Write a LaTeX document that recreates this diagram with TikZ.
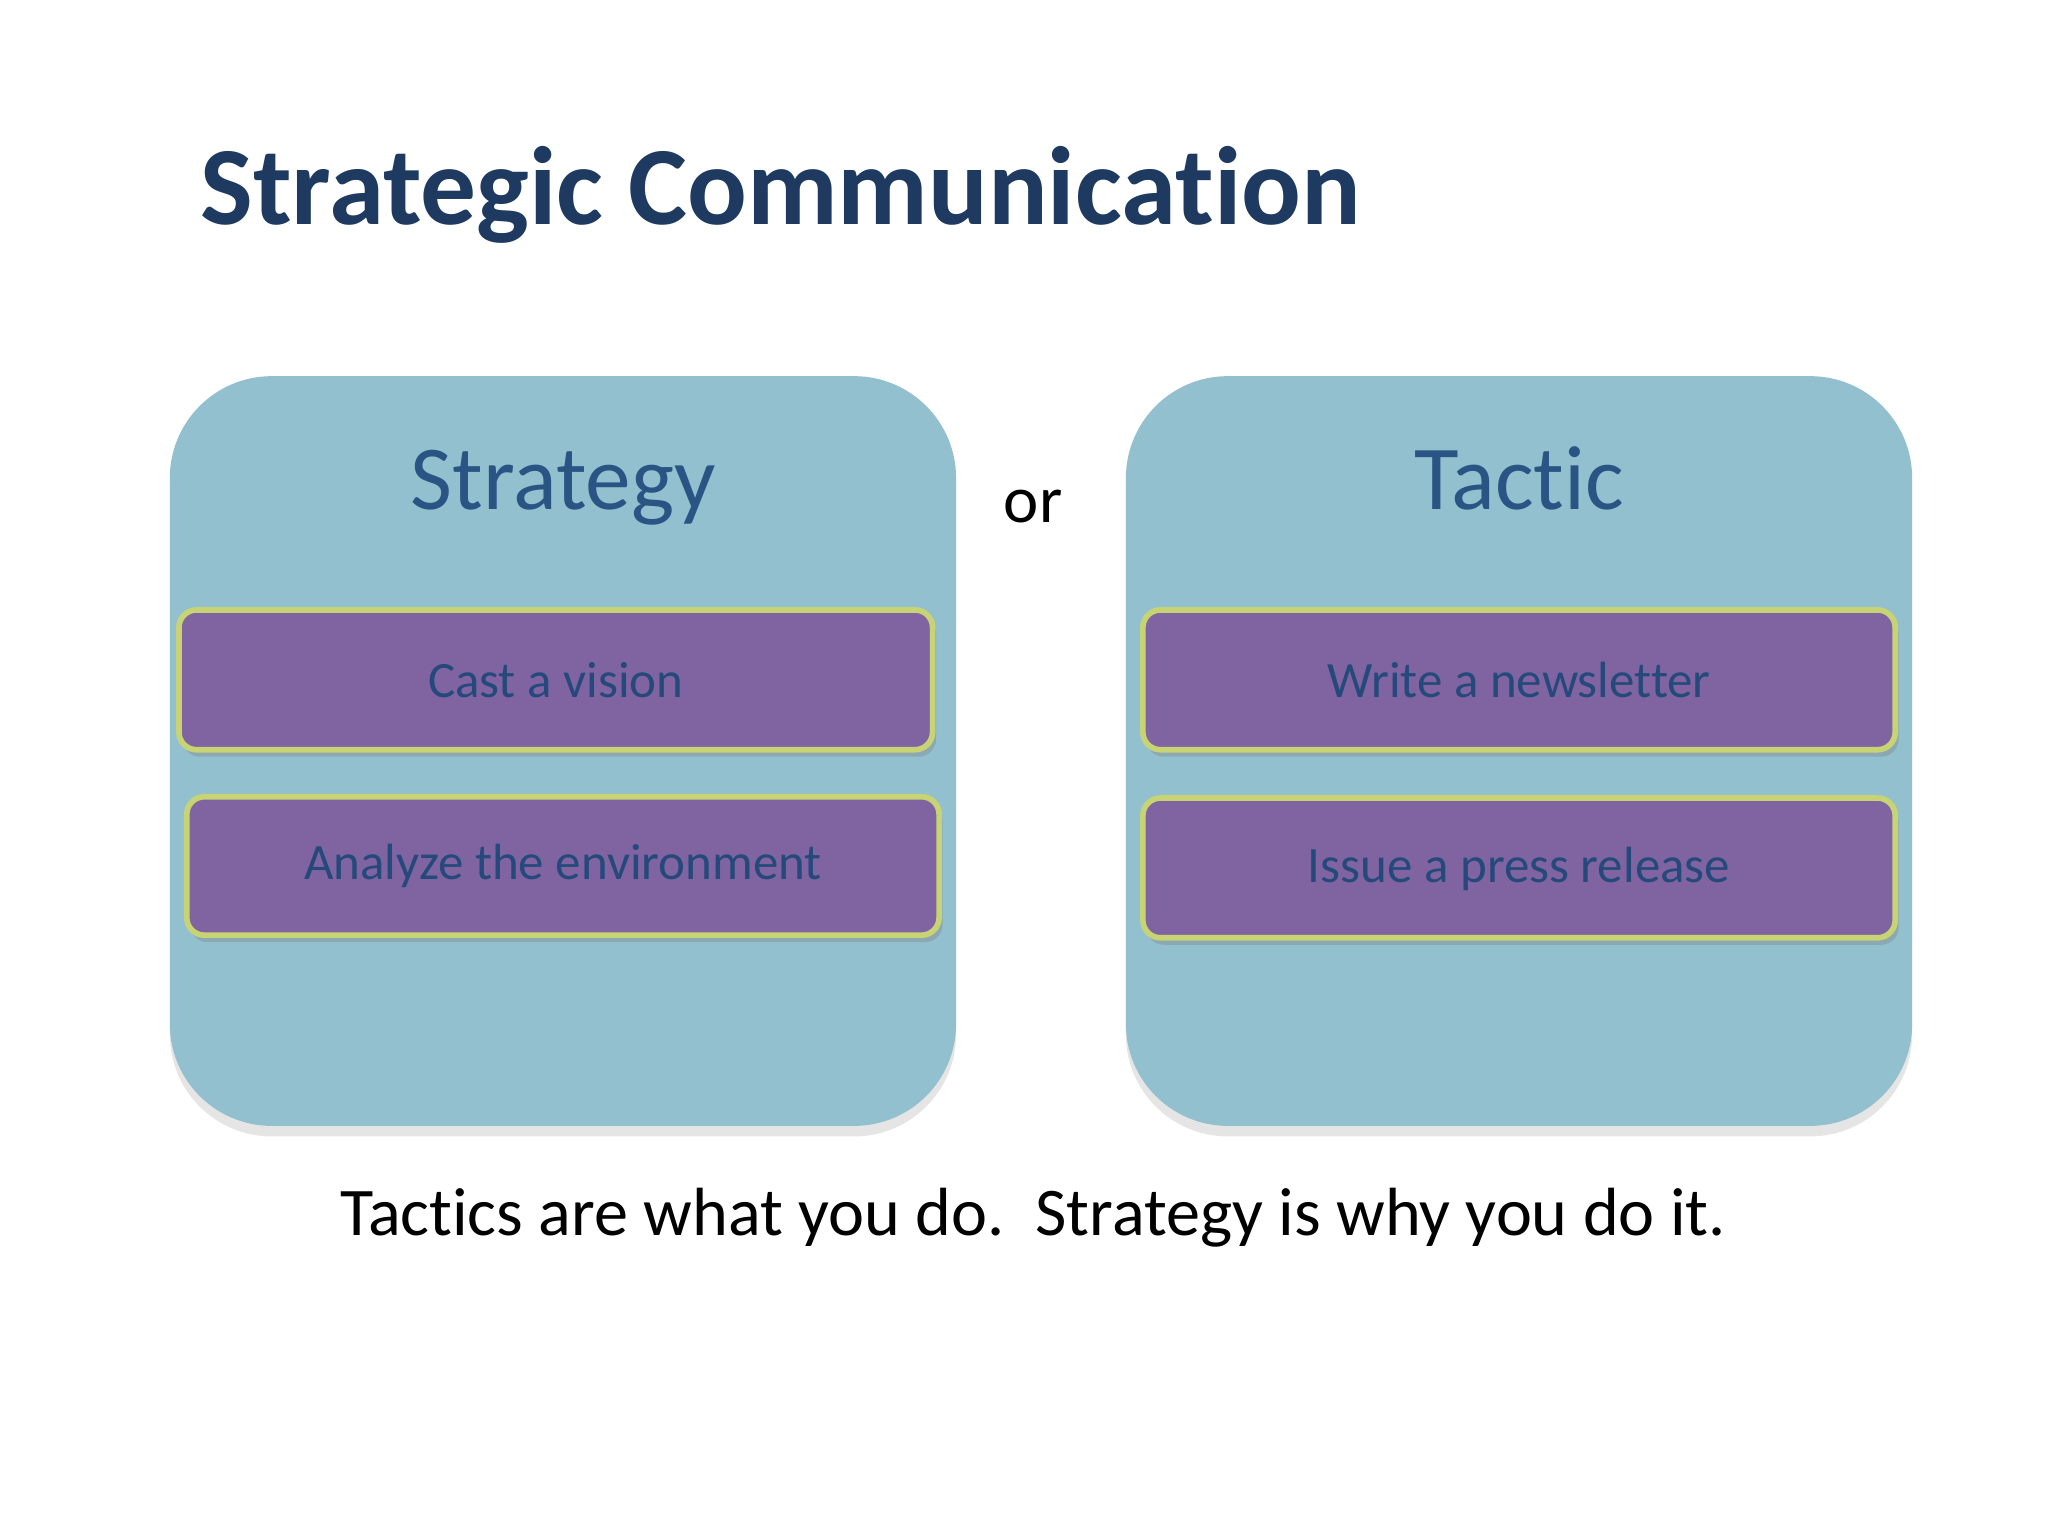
\documentclass[tikz,border=0pt]{standalone}
\usepackage{fontspec}
\setmainfont[RawFeature={-liga;-dlig}]{Carlito}
\usetikzlibrary{shadows}
\definecolor{titleblue}{HTML}{1F3A60}
\definecolor{boxblue}{HTML}{93C0CF}
\definecolor{headblue}{HTML}{2A5484}
\definecolor{barpurple}{HTML}{8064A2}
\definecolor{barline}{HTML}{C8D474}
\definecolor{bartext}{HTML}{24497A}
\tikzset{
  panel/.style={rounded corners=29pt, fill=boxblue, draw=none, drop shadow={shadow xshift=0pt, shadow yshift=-3pt, opacity=0.2}},
  bar/.style={rounded corners=5pt, fill=barpurple, draw=barline, line width=1.6pt, drop shadow={shadow xshift=1pt, shadow yshift=-2pt, opacity=0.35}},
  bartxt/.style={text=bartext, font=\fontsize{14.5}{16}\selectfont},
  headtxt/.style={text=headblue, font=\fontsize{26}{30}\selectfont}
}
\begin{document}
\begin{tikzpicture}[x=0.01306cm,y=-0.01306cm]
\useasboundingbox[fill=white] (0,0) rectangle (1568,1176);
\node[anchor=base west, inner sep=0, text=titleblue, font=\bfseries\fontsize{31.7}{36}\selectfont] (title) at (153,172) {Strategic Communication};
\path[panel] (130,288) rectangle (732,862);
\path[panel] (862,288) rectangle (1464,862);
\node[inner sep=0, anchor=base, headtxt] (strategy) at (431,390) {Strategy};
\node[inner sep=0, anchor=base, headtxt] (tactic) at (1163,390) {Tactic};
\node[inner sep=0, anchor=base, font=\fontsize{19}{22}\selectfont] (or) at (791,400) {or};
\path[bar] (137,467) rectangle (714,574);
\path[bar] (143,610) rectangle (719,716);
\path[bar] (875,467) rectangle (1451,574);
\path[bar] (875,611) rectangle (1451,718);
\node[bartxt] (b1) at (425.5,521) {Cast a vision};
\node[bartxt] (b2) at (431,663) {Analyze the environment};
\node[bartxt] (b3) at (1163,521) {Write a newsletter};
\node[bartxt] (b4) at (1163,665) {Issue a press release};
\node[inner sep=0, anchor=base, font=\fontsize{19.4}{22}\selectfont] (foot) at (791,946) {Tactics are what you do.\ \ Strategy is why you do it.};
\end{tikzpicture}
\end{document}
